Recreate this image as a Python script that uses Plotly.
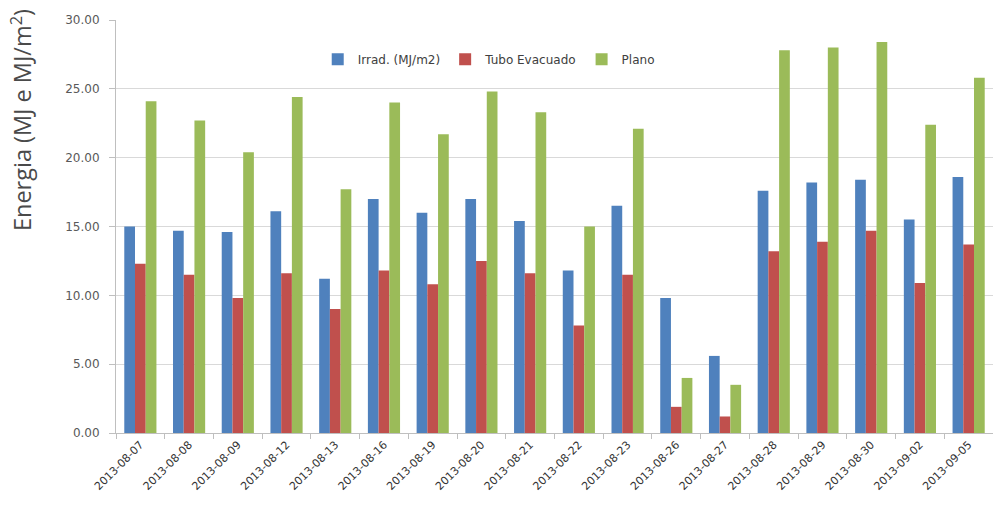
import plotly.graph_objects as go

# Daily energy readings per collector
dates = ["2013-08-07", "2013-08-08", "2013-08-09", "2013-08-12", "2013-08-13",
         "2013-08-16", "2013-08-19", "2013-08-20", "2013-08-21", "2013-08-22",
         "2013-08-23", "2013-08-26", "2013-08-27", "2013-08-28", "2013-08-29",
         "2013-08-30", "2013-09-02", "2013-09-05"]
irrad = [15.0, 14.7, 14.6, 16.1, 11.2, 17.0, 16.0, 17.0, 15.4, 11.8,
         16.5, 9.8, 5.6, 17.6, 18.2, 18.4, 15.5, 18.6]
tubo_evacuado = [12.3, 11.5, 9.8, 11.6, 9.0, 11.8, 10.8, 12.5, 11.6, 7.8,
                 11.5, 1.9, 1.2, 13.2, 13.9, 14.7, 10.9, 13.7]
plano = [24.1, 22.7, 20.4, 24.4, 17.7, 24.0, 21.7, 24.8, 23.3, 15.0,
         22.1, 4.0, 3.5, 27.8, 28.0, 28.4, 22.4, 25.8]

series = [
    ("Irrad. (MJ/m2)", irrad, "#4F81BD"),
    ("Tubo Evacuado", tubo_evacuado, "#C0504D"),
    ("Plano", plano, "#9BBB59"),
]

fig = go.Figure()
for name, values, color in series:
    fig.add_trace(go.Bar(x=dates, y=values, name=name,
                         marker=dict(color=color, line=dict(width=0))))

# Axis title sits near the top-left, outside the plotting area
fig.add_annotation(text="Energia (MJ e MJ/m<sup>2</sup>)", textangle=-90,
                   xref="paper", yref="paper", x=-0.108, y=1.032,
                   xanchor="center", yanchor="top", showarrow=False,
                   font=dict(family="Open Sans", size=23.5, color="#4a4a4a"))

fig.update_layout(
    width=993, height=512,
    margin=dict(l=116, r=0, t=20, b=79),
    paper_bgcolor="white", plot_bgcolor="white",
    barmode="group", bargap=0.34, bargroupgap=0,
    font=dict(family="DejaVu Sans", size=12, color="#404040"),
    legend=dict(orientation="h", x=0.425, y=0.905, xanchor="center", yanchor="middle",
                font=dict(family="DejaVu Sans", size=12, color="#404040"),
                bgcolor="rgba(0,0,0,0)", itemwidth=30, tracegroupgap=0),
    xaxis=dict(type="category", tickangle=-45, showgrid=False,
               showline=True, linecolor="#BFBFBF", linewidth=1,
               ticks="outside", tickson="boundaries", ticklen=5, tickcolor="#BFBFBF",
               tickfont=dict(family="DejaVu Sans", size=11, color="#333333")),
    yaxis=dict(range=[0, 30], dtick=5, tickformat=".2f",
               showgrid=True, gridcolor="#D9D9D9", gridwidth=1,
               showline=True, linecolor="#BFBFBF", linewidth=1,
               ticks="outside", ticklen=6, tickcolor="#BFBFBF",
               ticklabelstandoff=7,
               tickfont=dict(family="DejaVu Sans", size=12, color="#595959"),
               zeroline=False),
)

fig.write_html("out.html")
